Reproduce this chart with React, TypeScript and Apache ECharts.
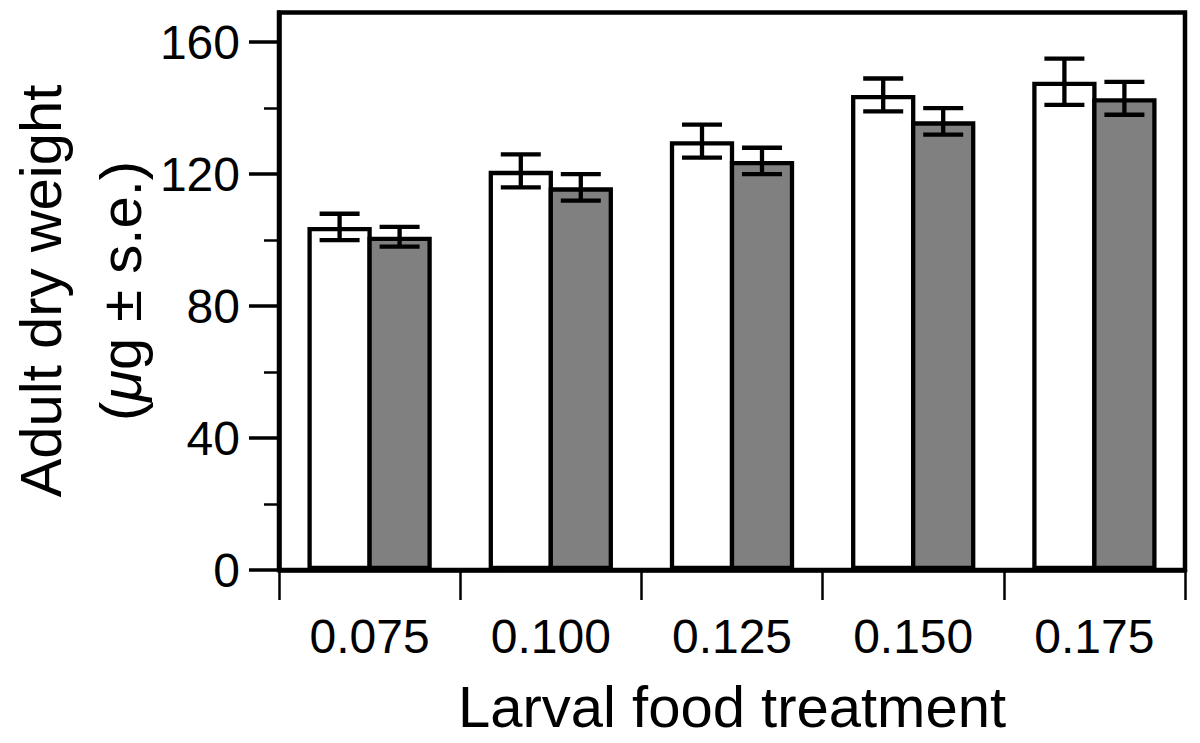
import React, { useEffect, useRef } from "react";
import * as echarts from "echarts";

const categories = ["0.075", "0.100", "0.125", "0.150", "0.175"];
const whiteMeans = [104, 121, 130, 144, 148];
const whiteSE = [4, 5, 5, 5, 7];
const grayMeans = [101, 116, 124, 136, 143];
const graySE = [3, 4, 4, 4, 5];
const majorTicks = [0, 40, 80, 120, 160];
const minorTicks = [20, 60, 100, 140];

const FONT = "Liberation Sans, Arial, Helvetica, sans-serif";
const BORDER = 4.3;
const BAR_STEP = 60;
const BAR_W = BAR_STEP + BORDER;
const BAR_GAP = (-BORDER / BAR_W) * 100 + "%";

function errData(means: number[], se: number[]) {
  return means.map((m, i) => [i, m - se[i], m + se[i]]);
}

function errSeries(means: number[], se: number[], offset: number) {
  return {
    type: "custom",
    z: 5,
    data: errData(means, se),
    encode: { x: 0, y: [1, 2] },
    renderItem: (params: any, api: any) => {
      const i = api.value(0);
      const lo = api.coord([i, api.value(1)]);
      const hi = api.coord([i, api.value(2)]);
      const x = lo[0] + offset;
      const half = 20;
      const style = { stroke: "#000", lineWidth: 4.3 };
      return {
        type: "group",
        children: [
          { type: "line", shape: { x1: x, y1: lo[1], x2: x, y2: hi[1] }, style },
          { type: "line", shape: { x1: x - half, y1: lo[1], x2: x + half, y2: lo[1] }, style },
          { type: "line", shape: { x1: x - half, y1: hi[1], x2: x + half, y2: hi[1] }, style },
        ],
      };
    },
  };
}

export default function App() {
  const ref = useRef<HTMLDivElement>(null);
  useEffect(() => {
    document.body.style.margin = "0";
    const chart = echarts.init(ref.current!, null, { renderer: "svg" });
    chart.setOption({
      animation: false,
      backgroundColor: "#fff",
      grid: {
        left: 279,
        right: 15,
        top: 12.5,
        bottom: 173,
        show: true,
        borderColor: "#000",
        borderWidth: 4.5,
        backgroundColor: "transparent",
      },
      xAxis: {
        type: "category",
        data: categories,
        axisLine: { lineStyle: { color: "#000", width: 4.5 } },
        axisTick: { show: true, length: 30, lineStyle: { color: "#000", width: 2.5 } },
        axisLabel: { color: "#000", fontSize: 48, fontFamily: FONT, margin: 42 },
        name: "Larval food treatment",
        nameLocation: "middle",
        nameGap: 107,
        nameTextStyle: { color: "#000", fontSize: 58, fontFamily: FONT },
        splitLine: { show: false },
      },
      yAxis: [
        {
          type: "value",
          min: 0,
          max: 169,
          interval: 40,
          position: "left",
          axisLine: { show: true, lineStyle: { color: "#000", width: 4.5 } },
          axisTick: {
            show: true,
            length: 30,
            customValues: majorTicks,
            lineStyle: { color: "#000", width: 3.5 },
          },
          axisLabel: {
            color: "#000",
            fontSize: 48,
            fontFamily: FONT,
            margin: 39,
            customValues: majorTicks,
          },
          splitLine: { show: false },
        },
        {
          type: "value",
          min: 0,
          max: 169,
          interval: 40,
          position: "left",
          offset: 0,
          axisLine: { show: false },
          axisTick: {
            show: true,
            length: 15,
            customValues: minorTicks,
            lineStyle: { color: "#000", width: 2.5 },
          },
          axisLabel: { show: false },
          splitLine: { show: false },
        },
      ],
      graphic: [
        {
          type: "text",
          x: 80,
          y: 291,
          rotation: Math.PI / 2,
          style: {
            text: "{n|Adult dry weight}\n{n|(}{i|μ}{n|g ± s.e.)}",
            align: "center",
            verticalAlign: "middle",
            fill: "#000",
            rich: {
              n: { fontSize: 58, fontFamily: FONT, lineHeight: 80, fill: "#000" },
              i: { fontSize: 58, fontFamily: FONT, lineHeight: 80, fontStyle: "italic", fill: "#000" },
            },
          },
        },
      ],
      series: [
        {
          type: "bar",
          data: whiteMeans,
          barWidth: BAR_W,
          barGap: BAR_GAP,
          itemStyle: { color: "#fff", borderColor: "#000", borderWidth: BORDER },
        },
        {
          type: "bar",
          data: grayMeans,
          barWidth: BAR_W,
          barGap: BAR_GAP,
          itemStyle: { color: "#808080", borderColor: "#000", borderWidth: BORDER },
        },
        errSeries(whiteMeans, whiteSE, -BAR_STEP / 2),
        errSeries(grayMeans, graySE, BAR_STEP / 2),
      ],
    });
    return () => chart.dispose();
  }, []);
  return <div ref={ref} style={{ width: 1200, height: 743 }} />;
}
